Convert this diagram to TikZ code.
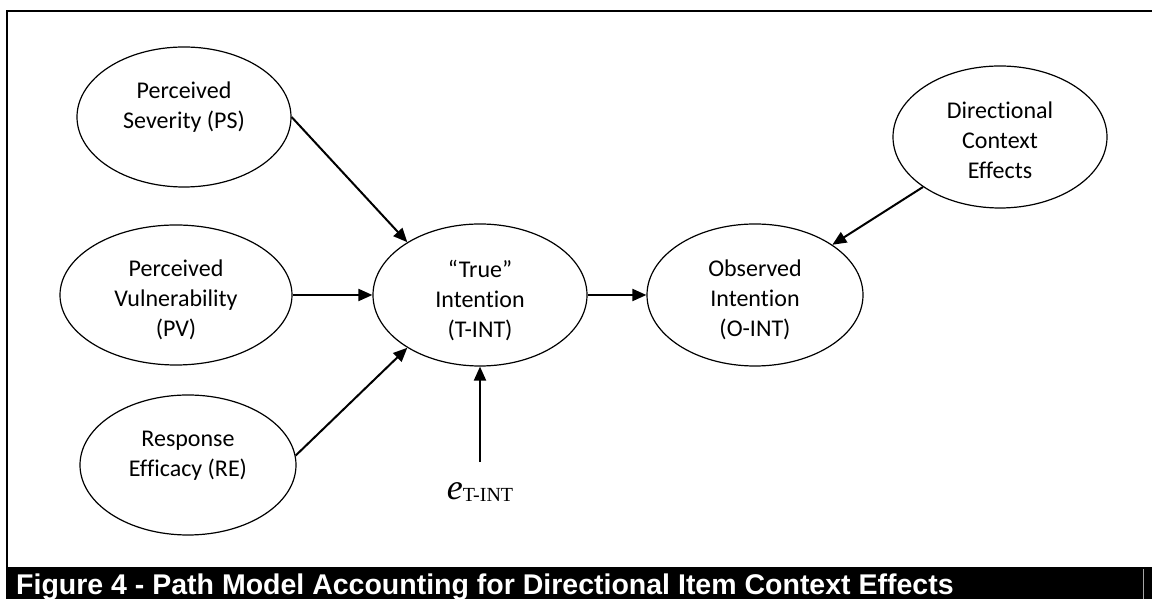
\documentclass[tikz,border=0pt]{standalone}
\usepackage{fontspec}
\setmainfont{Carlito}[Ligatures=NoCommon]
\newfontfamily\capfont{Liberation Sans}
\newfontfamily\timesfont{Liberation Serif}
\usetikzlibrary{shapes.geometric,arrows.meta}

\begin{document}
\begin{tikzpicture}[x=1pt,y=1pt,
  latent/.style={draw,ellipse,line width=1.2pt,minimum width=214pt,minimum height=140pt,inner sep=0pt},
  lbl/.style={align=center,inner sep=0pt,yshift=-8pt,font=\fontsize{24}{30}\selectfont},
  effect/.style={line width=2pt,-{Triangle[length=14pt,width=12pt]}}]
\useasboundingbox (0,0) rectangle (1152,599);
% frame and caption bar
\draw [line width=2.2pt] (7,0)--(7,588)--(1152,588);
\fill (8,0) rectangle (1152,32);
\draw [gray!70,line width=1pt] (1143,0)--(1143,30);
\node [anchor=base west,text=white,inner sep=0pt,font=\capfont\bfseries\fontsize{28.5}{30}\selectfont]
  (caption) at (16,4) {Figure 4 - Path Model Accounting for Directional Item Context Effects};
% antecedents
\node [latent,label={[lbl]center:Perceived\\Severity (PS)\\\strut}] (PS) at (184,482) {};
\node [latent,minimum width=232pt,label={[lbl]center:Perceived\\Vulnerability\\(PV)\strut}] (PV) at (176,304) {};
\node [latent,minimum width=216pt,label={[lbl]center:Response\\Efficacy (RE)\\\strut}] (RE) at (188,134) {};
% intentions
\node [latent,minimum height=142pt,label={[lbl]center:“True”\\Intention\\(T-INT)\strut}] (TINT) at (480,304) {};
\node [latent,minimum width=216pt,minimum height=142pt,label={[lbl]center:Observed\\Intention\\(O-INT)\strut}] (OINT) at (755,304) {};
\node [latent,minimum height=142pt,label={[lbl]center:Directional\\Context\\Effects\strut}] (DCE) at (1000,462) {};
% error term
\node [anchor=base,inner sep=0pt,outer ysep=21pt] (eTINT) at (480,99)
  {\timesfont\fontsize{36}{40}\selectfont\itshape e\upshape\raisebox{-2pt}{\fontsize{20}{24}\selectfont T-INT}};
% paths
\draw [effect] (PS.east)--(TINT.144);
\draw [effect] (PV.east)--(TINT.west);
\draw [effect] (RE.5)--(TINT.-144);
\draw [effect] (eTINT.north)--(TINT.south);
\draw [effect] (TINT.east)--(OINT.west);
\draw [effect] (DCE.213)--(OINT.33);
\end{tikzpicture}
\end{document}
